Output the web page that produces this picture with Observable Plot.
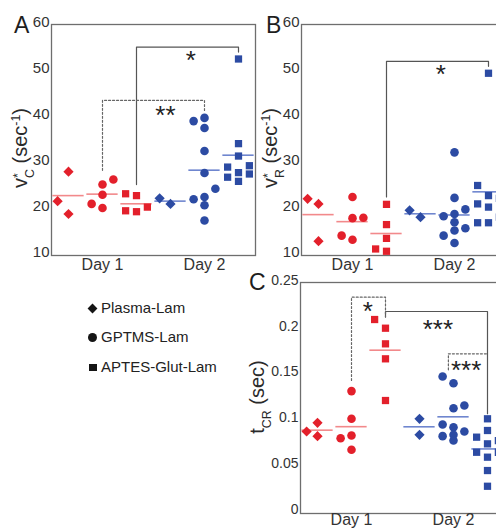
<!DOCTYPE html>
<html>
<head>
<meta charset="utf-8">
<script src="https://cdn.jsdelivr.net/npm/d3@7"></script>
<script src="https://cdn.jsdelivr.net/npm/@observablehq/plot@0.6"></script>
<style>
  html, body { margin: 0; padding: 0; background: #fff; }
  #wrap { position: relative; width: 496px; height: 529px; overflow: hidden; background: #fff;
          font-family: "Liberation Sans", Arial, Helvetica, sans-serif; color: #222; }
  .abs { position: absolute; }
  .letter { font-size: 23px; line-height: 1; color: #1e1e1e; }
  .ytitle { font-size: 20px; line-height: 1; white-space: nowrap; color: #2a2a2a;
            transform: translate(-50%, -50%) rotate(-90deg); }
  .ytitle .sp { font-size: 0.62em; vertical-align: 0.55em; }
  .ytitle .stack { display: inline-block; font-size: 0.62em; line-height: 0.95; vertical-align: -0.55em; text-align: left; }
  .legend-item { position: absolute; font-size: 15px; line-height: 1; color: #222; white-space: nowrap; }
  .sym { position: absolute; background: #151515; }
</style>
</head>
<body>
<div id="wrap"></div>
<script>
// ---------- categories ----------
const days = ["Day 1", "Day 2"];
const coatings = ["Plasma-Lam", "GPTMS-Lam", "APTES-Glut-Lam"];

// ---------- Panel A: vC* (sec^-1) ----------
const vC_day1_plasma = [21.1, 27.5, 18.3];
const vC_day1_gptms  = [20.5, 22.5, 19.6, 24.7, 25.8];
const vC_day1_aptes  = [22.7, 22.3, 19.0, 18.8, 19.8];
const vC_day2_plasma = [21.7, 20.5];
const vC_day2_gptms  = [38.5, 39.2, 37.0, 32.0, 27.2, 23.8, 21.5, 22.0, 20.2, 16.9];
const vC_day2_aptes  = [52.0, 33.6, 30.9, 28.5, 27.3, 26.3, 25.4, 28.8, 27.0];
// swarm column of each point (-1 left, 0 centre, 1 right)
const vC_day1_plasma_col = [-1, 0, 0];
const vC_day1_gptms_col  = [-1, 0, 0, 0, 1];
const vC_day1_aptes_col  = [-1, 0, -1, 0, 1];
const vC_day2_plasma_col = [-1, 0];
const vC_day2_gptms_col  = [-1, 0, 0, 0, 0, 1, -1, 0, 0, 0];
const vC_day2_aptes_col  = [0, 0, 0, -1, 0, -1, 0, 1, 1];

// ---------- Panel B: vR* (sec^-1) ----------
const vR_day1_plasma = [21.6, 20.5, 12.4];
const vR_day1_gptms  = [22.0, 13.6, 12.7, 17.4, 17.5];
const vR_day1_aptes  = [20.4, 16.0, 13.0, 10.7, 10.2];
const vR_day2_plasma = [19.1, 17.6];
const vR_day2_gptms  = [31.7, 21.8, 17.8, 18.3, 19.3, 16.5, 15.2, 13.6, 14.7, 12.0];
const vR_day2_aptes  = [48.9, 24.5, 22.3, 21.7, 20.5, 19.8, 17.6, 16.4, 16.4];
const vR_day1_plasma_col = [-1, 0, 0];
const vR_day1_gptms_col  = [0, -1, 0, 0, 1];
const vR_day1_aptes_col  = [0, 0, 0, -1, 0];
const vR_day2_plasma_col = [-1, 0];
const vR_day2_gptms_col  = [0, 0, -1, 0, 1, 0, 1, -1, 0, 0];
const vR_day2_aptes_col  = [0, -1, 0, 1, -1, 0, 1, -1, 0];

// ---------- Panel C: tCR (sec) ----------
const tCR_day1_plasma = [0.0848, 0.0943, 0.0797];
const tCR_day1_gptms  = [0.129, 0.0987, 0.0775, 0.0804, 0.0648];
const tCR_day1_aptes  = [0.2073, 0.1978, 0.1807, 0.1643, 0.1187];
const tCR_day2_plasma = [0.0987, 0.0812];
const tCR_day2_gptms  = [0.145, 0.1376, 0.1103, 0.1132, 0.0925, 0.0895, 0.0848, 0.0797, 0.0812, 0.0749];
const tCR_day2_aptes  = [0.0987, 0.0859, 0.0786, 0.0749, 0.0713, 0.0621, 0.0621, 0.0567, 0.0421, 0.0249];
const tCR_day1_plasma_col = [-1, 0, 0];
const tCR_day1_gptms_col  = [0, 0, -1, 0, 0];
const tCR_day1_aptes_col  = [-1, 0, 0, 0, 0];
const tCR_day2_plasma_col = [0, 0];
const tCR_day2_gptms_col  = [-1, 0, 0, 1, -1, 0, 1, -1, 0, 0];
const tCR_day2_aptes_col  = [0, 0, -1, 1, 0, -1, 1, 0, 0, 0];

// ---------- tick labels ----------
const vTicks = [10, 20, 30, 40, 50, 60];
const tTicks = [0, 0.05, 0.1, 0.15, 0.2, 0.25];

// ---------- significance brackets (group index 0..5, value units) ----------
const vC_brackets = [
  {from: 1, to: 4, leftEnd: 27.8, top: 43.0, rightEnd: 40.4, dashed: true,  label: "**", labelX: 2.85, labelY: 41.2},
  {from: 2, to: 5, leftEnd: 24.7, top: 54.6, rightEnd: 53.5, dashed: false, label: "*",  labelX: 3.6,  labelY: 53.0}
];
const vR_brackets = [
  {from: 2, to: 5, leftEnd: 22.0, top: 51.5, rightEnd: 50.4, dashed: false, label: "*", labelX: 3.6, labelY: 49.9}
];
const tCR_brackets = [
  {from: 1, to: 2, leftEnd: 0.1406, top: 0.2317, rightEnd: 0.2106, dashed: true,  label: "*",   labelX: 1.48, labelY: 0.2226},
  {from: 2, to: 5, leftEnd: 0.2098, top: 0.2161, rightEnd: 0.1042, dashed: false, label: "***", labelX: 3.54, labelY: 0.2033},
  {from: 3.85, to: 5, leftEnd: 0.1523, top: 0.1698, rightEnd: 0.1698, dashed: true, label: "***", labelX: 4.37, labelY: 0.158}
];

// ---------- styles ----------
const dotColor  = {"Day 1": "#e3202b", "Day 2": "#2c4ba3"};
const meanColor = {"Day 1": "#f2898b", "Day 2": "#6f86cf"};
const symbolOf  = {"Plasma-Lam": "diamond2", "GPTMS-Lam": "circle", "APTES-Glut-Lam": "square"};
const rOf       = {"Plasma-Lam": 4.6, "GPTMS-Lam": 4.3, "APTES-Glut-Lam": 4.1};
const COL = 0.32;
const FRAME = "#6e6e6e";
const FONT = "'Liberation Sans', Arial, Helvetica, sans-serif";

function series(day, coating, values, cols) {
  const g = days.indexOf(day) * 3 + coatings.indexOf(coating);
  return values.map((value, i) => ({day, coating, g, value, col: cols[i]}));
}

const vC_rows = [
  ...series("Day 1", "Plasma-Lam", vC_day1_plasma, vC_day1_plasma_col),
  ...series("Day 1", "GPTMS-Lam", vC_day1_gptms, vC_day1_gptms_col),
  ...series("Day 1", "APTES-Glut-Lam", vC_day1_aptes, vC_day1_aptes_col),
  ...series("Day 2", "Plasma-Lam", vC_day2_plasma, vC_day2_plasma_col),
  ...series("Day 2", "GPTMS-Lam", vC_day2_gptms, vC_day2_gptms_col),
  ...series("Day 2", "APTES-Glut-Lam", vC_day2_aptes, vC_day2_aptes_col)
];
const vR_rows = [
  ...series("Day 1", "Plasma-Lam", vR_day1_plasma, vR_day1_plasma_col),
  ...series("Day 1", "GPTMS-Lam", vR_day1_gptms, vR_day1_gptms_col),
  ...series("Day 1", "APTES-Glut-Lam", vR_day1_aptes, vR_day1_aptes_col),
  ...series("Day 2", "Plasma-Lam", vR_day2_plasma, vR_day2_plasma_col),
  ...series("Day 2", "GPTMS-Lam", vR_day2_gptms, vR_day2_gptms_col),
  ...series("Day 2", "APTES-Glut-Lam", vR_day2_aptes, vR_day2_aptes_col)
];
const tCR_rows = [
  ...series("Day 1", "Plasma-Lam", tCR_day1_plasma, tCR_day1_plasma_col),
  ...series("Day 1", "GPTMS-Lam", tCR_day1_gptms, tCR_day1_gptms_col),
  ...series("Day 1", "APTES-Glut-Lam", tCR_day1_aptes, tCR_day1_aptes_col),
  ...series("Day 2", "Plasma-Lam", tCR_day2_plasma, tCR_day2_plasma_col),
  ...series("Day 2", "GPTMS-Lam", tCR_day2_gptms, tCR_day2_gptms_col),
  ...series("Day 2", "APTES-Glut-Lam", tCR_day2_aptes, tCR_day2_aptes_col)
];

function bracketPaths(brackets) {
  return brackets.flatMap((b, id) => [
    {id, dashed: b.dashed, x: b.from, y: b.leftEnd},
    {id, dashed: b.dashed, x: b.from, y: b.top},
    {id, dashed: b.dashed, x: b.to, y: b.top},
    {id, dashed: b.dashed, x: b.to, y: b.rightEnd}
  ]);
}

function panel({rows, brackets, yDomain, yTicks, tickFont, tickFormat, dayPad}) {
  const means = d3.flatRollup(rows, v => d3.mean(v, d => d.value), d => d.g, d => d.day)
    .map(([g, day, mean]) => ({g, day, mean}));
  const paths = bracketPaths(brackets);
  const marks = [
    Plot.frame({stroke: FRAME, strokeWidth: 1.3}),
    Plot.axisY({ticks: yTicks, tickSize: 0, tickPadding: 2, fontSize: tickFont, label: null, tickFormat}),
    Plot.axisX({ticks: [1, 4], tickFormat: d => days[d === 1 ? 0 : 1], tickSize: 0, tickPadding: dayPad, fontSize: 16, label: null}),
    Plot.line(paths.filter(p => !p.dashed), {x: "x", y: "y", z: "id", stroke: "#555", strokeWidth: 1.2}),
    Plot.line(paths.filter(p => p.dashed), {x: "x", y: "y", z: "id", stroke: "#666", strokeWidth: 1.2, strokeDasharray: "2,2"}),
    Plot.text(brackets, {x: "labelX", y: "labelY", text: "label", fontSize: 26, dy: 6.5, fill: "#222"})
  ];
  for (const day of days) {
    marks.push(Plot.ruleY(means.filter(m => m.day === day), {
      y: "mean", x1: d => d.g - 0.46, x2: d => d.g + 0.46, stroke: meanColor[day], strokeWidth: 1.6
    }));
    for (const c of coatings) {
      marks.push(Plot.dot(rows.filter(r => r.day === day && r.coating === c), {
        x: d => d.g + d.col * COL, y: "value", symbol: symbolOf[c], r: rOf[c], fill: dotColor[day], stroke: "none"
      }));
    }
  }
  return Plot.plot({
    width: 275, height: 280,
    marginLeft: 51, marginRight: 20, marginTop: 24, marginBottom: 25,
    x: {domain: [-0.5, 5.5]},
    y: {domain: yDomain},
    style: {fontFamily: FONT, color: "#333", background: "transparent", overflow: "visible"},
    marks
  });
}

const wrap = document.getElementById("wrap");
function place(el, left, top) {
  el.style.position = "absolute";
  el.style.left = left + "px";
  el.style.top = top + "px";
  wrap.appendChild(el);
}

place(panel({rows: vC_rows, brackets: vC_brackets, yDomain: [9.28, 59.5], yTicks: vTicks, tickFont: 15, dayPad: 3}), 0, 0);
place(panel({rows: vR_rows, brackets: vR_brackets, yDomain: [9.28, 59.5], yTicks: vTicks, tickFont: 15, dayPad: 3}), 250, 0);
place(panel({rows: tCR_rows, brackets: tCR_brackets, yDomain: [-0.0049, 0.2478], yTicks: tTicks, tickFont: 14,
             tickFormat: d => String(d), dayPad: 0}), 249, 258);

// panel letters & axis titles
function html(str, cls, left, top) {
  const d = document.createElement("div");
  d.className = "abs " + cls;
  d.innerHTML = str;
  d.style.left = left + "px";
  d.style.top = top + "px";
  wrap.appendChild(d);
  return d;
}
html("A", "letter", 14, 14);
html("B", "letter", 266, 14);
html("C", "letter", 249, 271);
html('v<span class="stack">*<br>C</span> (sec<span class="sp">-1</span>)', "ytitle", 23, 148);
html('v<span class="stack">*<br>R</span> (sec<span class="sp">-1</span>)', "ytitle", 273, 148);
html('t<span class="stack">&nbsp;<br>CR</span> (sec)', "ytitle", 260, 397);

// legend
const legendY = [308, 337, 367];
coatings.forEach((c, i) => {
  const s = document.createElement("div");
  s.className = "sym";
  const y = legendY[i];
  if (c === "Plasma-Lam") {
    Object.assign(s.style, {left: "89px", top: (y - 3.5) + "px", width: "7px", height: "7px", transform: "rotate(45deg)"});
  } else if (c === "GPTMS-Lam") {
    Object.assign(s.style, {left: "88px", top: (y - 4.5) + "px", width: "9px", height: "9px", borderRadius: "50%"});
  } else {
    Object.assign(s.style, {left: "89px", top: (y - 3.5) + "px", width: "7.5px", height: "7.5px"});
  }
  wrap.appendChild(s);
  const t = document.createElement("div");
  t.className = "legend-item";
  t.textContent = c;
  t.style.left = "101px";
  t.style.top = (y - 8) + "px";
  wrap.appendChild(t);
});
</script>
</body>
</html>
